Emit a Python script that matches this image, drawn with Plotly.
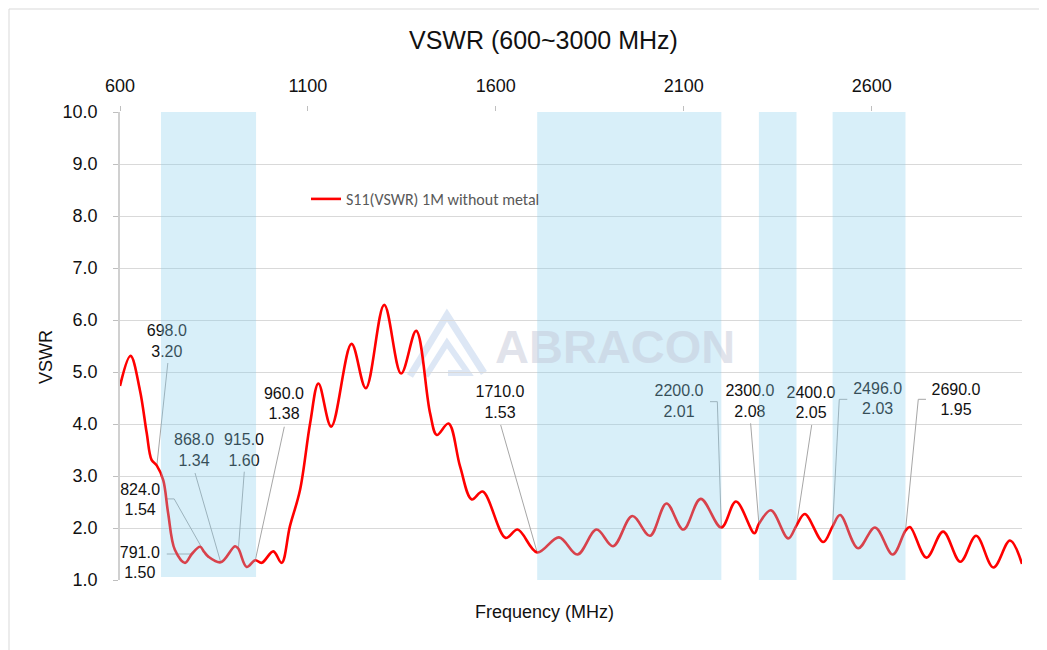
import plotly.graph_objects as go

# ---------------- data ----------------
freq_mhz = [600, 628, 653, 671, 684, 698, 715, 728, 746, 773, 791, 813, 824, 835, 868, 906, 915,
            937, 960, 977, 1008, 1030, 1052, 1079, 1106, 1128, 1162, 1216, 1254, 1303, 1348, 1388,
            1425, 1443, 1474, 1505, 1536, 1565, 1626, 1658, 1710, 1768, 1817, 1868, 1912, 1963,
            2010, 2054, 2099, 2145, 2200, 2239, 2288, 2300, 2332, 2378, 2400, 2422, 2471, 2496,
            2516, 2564, 2609, 2656, 2690, 2702, 2746, 2790, 2836, 2878, 2924, 2968, 3000]
vswr = [4.73, 5.31, 4.65, 3.83, 3.31, 3.20, 2.92, 2.29, 1.58, 1.33, 1.50, 1.64, 1.54, 1.45, 1.34, 1.65, 1.60,
        1.25, 1.38, 1.33, 1.55, 1.33, 2.03, 2.73, 4.02, 4.78, 3.95, 5.54, 4.69, 6.29, 4.97, 5.79,
        4.21, 3.79, 4.01, 3.18, 2.55, 2.70, 1.81, 1.97, 1.53, 1.82, 1.49, 1.97, 1.65, 2.23,
        1.85, 2.47, 1.97, 2.56, 2.01, 2.51, 1.90, 2.08, 2.34, 1.80, 2.05, 2.27, 1.73, 2.03,
        2.25, 1.61, 2.01, 1.49, 1.95, 2.02, 1.43, 1.93, 1.35, 1.85, 1.24, 1.76, 1.31]

marker_freq = [698, 791, 824, 868, 915, 960, 1710, 2200, 2300, 2400, 2496, 2690]
marker_vswr = [3.20, 1.50, 1.54, 1.34, 1.60, 1.38, 1.53, 2.01, 2.08, 2.05, 2.03, 1.95]

band_start = [709, 1710, 2300, 2496]
band_end = [962, 2200, 2400, 2690]

x_ticks = [600, 1100, 1600, 2100, 2600]
series_name = "S11(VSWR) 1M without metal"
title_text = "VSWR (600~3000 MHz)"

# ---------------- layout geometry (page pixels) ----------------
W, H = 1047, 650
OFF = 8  # default page body margin
L, R, T, B = 120, 1022, 112, 580
XMIN, XMAX, YMIN, YMAX = 600, 3000, 1.0, 10.0
XS = (R - L) / (XMAX - XMIN)
YS = (B - T) / (YMAX - YMIN)

def px2paper(px, py):
    return (px - L) / (R - L), (B - py) / (B - T)

# label placement: (text dx, text dy), leader path offsets (pixels from point)
label_style = [
    ((10, -123), [(11, -102.6)]),
    ((-52, 10), [(-25, 0)]),
    ((-64, -51), [(-39, -53), (-30, -53)]),
    ((-26.7, -110.8), [(-25.7, -89.3)]),
    ((5.6, -97.3), [(5.9, -77.1)]),
    ((28.7, -155.2), [(29, -133.5)]),
    ((-37.2, -148.9), [(-36.5, -127.4)]),
    ((-42.3, -125), [(-11.3, -125.8), (-4, -125.8)]),
    ((-9, -121.3), [(-8.3, -100.5)]),
    ((14.5, -121.4), [(15.2, -100.4)]),
    ((45.1, -126.4), [(14.7, -127.1), (6.7, -127.1)]),
    ((50.5, -129.6), [(20.5, -131.3), (12.8, -131.3)]),
]

FONT = "Liberation Sans, Arial, sans-serif"

fig = go.Figure()

# leader lines
lx, ly = [], []
for f, v, (toff, path) in zip(marker_freq, marker_vswr, label_style):
    for dx, dy in path:
        lx.append(f + dx / XS)
        ly.append(v - dy / YS)
    lx.append(f)
    ly.append(v)
    lx.append(None)
    ly.append(None)
fig.add_trace(go.Scatter(x=lx, y=ly, mode="lines", line=dict(color="#A6A6A6", width=1),
                         showlegend=False, hoverinfo="skip"))

# main curve
fig.add_trace(go.Scatter(x=freq_mhz, y=vswr, mode="lines", name=series_name,
                         line=dict(color="#FF0000", width=2.6, shape="spline", smoothing=1.0)))

# data labels
tx, ty, tt = [], [], []
for f, v, (toff, path) in zip(marker_freq, marker_vswr, label_style):
    tx.append(f + toff[0] / XS)
    ty.append(v - toff[1] / YS)
    tt.append(f"{f:.1f}<br>{v:.2f}")
fig.add_trace(go.Scatter(x=tx, y=ty, mode="text", text=tt, textposition="middle center",
                         textfont=dict(family=FONT, size=16, color="#111111"),
                         showlegend=False, hoverinfo="skip"))

shapes = []
# highlighted bands (drawn above traces, semi-transparent)
band_bottom = [1.06, 1.0, 1.0, 0.95]
for x0, x1, yb in zip(band_start, band_end, band_bottom):
    shapes.append(dict(type="rect", xref="x", yref="y", x0=x0, x1=x1, y0=yb, y1=YMAX,
                       fillcolor="rgb(135,206,235)", opacity=0.32, line=dict(width=0),
                       layer="above"))

# chart border
bx0, by0 = px2paper(9, 660)
bx1, by1 = px2paper(1060, 9)
shapes.append(dict(type="rect", xref="paper", yref="paper", x0=bx0, x1=bx1, y0=by0, y1=by1,
                   line=dict(color="#D9D9D9", width=1), fillcolor="rgba(0,0,0,0)", layer="below"))

# watermark logo (faint chevrons)
def ppath(points):
    s = ""
    for i, (px, py) in enumerate(points):
        x, y = px2paper(px, py)
        s += ("M" if i == 0 else "L") + f"{x:.4f},{y:.4f} "
    return s

logo_col = "rgba(170,195,230,0.4)"
shapes.append(dict(type="path", xref="paper", yref="paper",
                   path=ppath([(410, 376), (447, 315), (484, 373)]),
                   line=dict(color=logo_col, width=7), layer="below"))
shapes.append(dict(type="path", xref="paper", yref="paper",
                   path=ppath([(426, 376), (447, 343), (468, 373), (448, 373)]),
                   line=dict(color=logo_col, width=6), layer="below"))

annotations = []
wx, wy = px2paper(615, 346)
annotations.append(dict(xref="paper", yref="paper", x=wx, y=wy, xanchor="center", yanchor="middle",
                        text="<b>ABRACON</b>", showarrow=False,
                        font=dict(family=FONT, size=47, color="rgba(195,200,215,0.5)")))
tx_, ty_ = px2paper(543, 40)
annotations.append(dict(xref="paper", yref="paper", x=tx_, y=ty_, xanchor="center", yanchor="middle",
                        text=title_text, showarrow=False,
                        font=dict(family=FONT, size=25, color="#111111")))
xx, xy = px2paper(544.5, 612)
annotations.append(dict(xref="paper", yref="paper", x=xx, y=xy, xanchor="center", yanchor="middle",
                        text="Frequency (MHz)", showarrow=False,
                        font=dict(family=FONT, size=18, color="#111111")))
yx, yy = px2paper(46, 357)
annotations.append(dict(xref="paper", yref="paper", x=yx, y=yy, xanchor="center", yanchor="middle",
                        text="VSWR", showarrow=False, textangle=-90,
                        font=dict(family=FONT, size=18, color="#111111")))

lgx, lgy = px2paper(306, 199)
fig.update_layout(
    width=W - OFF, height=H - OFF,
    margin=dict(l=L - OFF, r=W - R, t=T - OFF, b=H - B, pad=0),
    paper_bgcolor="white", plot_bgcolor="white",
    shapes=shapes, annotations=annotations,
    showlegend=True,
    legend=dict(x=lgx, y=lgy, xanchor="left", yanchor="middle", bgcolor="rgba(0,0,0,0)",
                font=dict(family="Carlito, Lato, sans-serif", size=16, color="#595959")),
    xaxis=dict(range=[XMIN, XMAX], side="top", tickvals=x_ticks, showgrid=False, zeroline=False,
               showline=False, ticks="outside", ticklen=5, tickcolor="#BFBFBF",
               ticklabelstandoff=7,
               tickfont=dict(family=FONT, size=18, color="#111111")),
    yaxis=dict(range=[YMIN, YMAX], dtick=1, tickformat=".1f", showgrid=True, gridcolor="#D9D9D9",
               gridwidth=1, zeroline=False, showline=True, linecolor="#D0D0D0", linewidth=1.5,
               ticks="outside", ticklen=5, tickcolor="#BFBFBF", ticklabelstandoff=12,
               tickfont=dict(family=FONT, size=18, color="#111111")),
)

fig.write_html("out.html")
